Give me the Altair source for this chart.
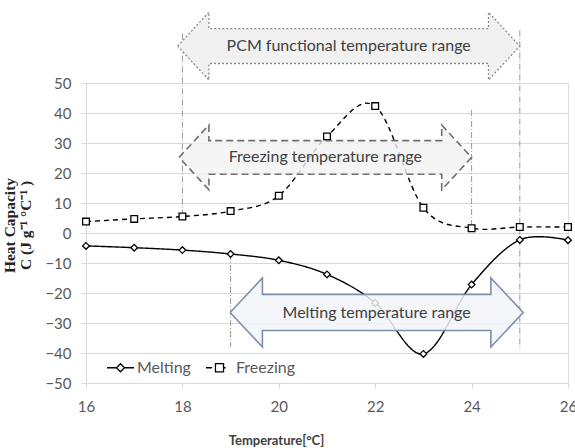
import altair as alt
import pandas as pd

# ---- data ----
temps = [16, 17, 18, 19, 20, 21, 22, 23, 24, 25, 26]
melting = [-4.3, -4.9, -5.7, -7.0, -9.1, -13.8, -23.3, -40.3, -17.2, -2.3, -2.4]
freezing = [3.8, 4.7, 5.5, 7.3, 12.4, 32.2, 42.3, 8.4, 1.6, 2.0, 2.0]
series_names = ["Melting", "Freezing"]

# annotation arrows (data units)
arrow_labels = ["PCM functional temperature range", "Freezing temperature range", "Melting temperature range"]
arrow_start = [17.9, 17.93, 18.99]
arrow_end = [25.0, 24.0, 25.07]
arrow_center = [62.3, 25.2, -26.5]
arrow_head_half = [11.3, 10.8, 11.5]
arrow_shaft_half = [5.8, 5.6, 6.0]
arrow_head_len = [0.65, 0.62, 0.67]

# vertical guide lines (data units)
guide_x = [18, 25, 24, 19]
guide_top = [66.5, 67.5, 41, -7]
guide_bottom = [6, -39, 2, -38]

x_ticks = [16, 18, 20, 22, 24, 26]
y_ticks = [-50, -40, -30, -20, -10, 0, 10, 20, 30, 40, 50]

# ---- tables ----
rows = []
for t, m, f in zip(temps, melting, freezing):
    rows.append({"T": t, "C": m, "series": "Melting"})
    rows.append({"T": t, "C": f, "series": "Freezing"})
df = pd.DataFrame(rows)

def arrow_poly(i):
    s, e, c = arrow_start[i], arrow_end[i], arrow_center[i]
    H, h, L = arrow_head_half[i], arrow_shaft_half[i], arrow_head_len[i]
    pts = [(s, c), (s + L, c + H), (s + L, c + h), (e - L, c + h), (e - L, c + H),
           (e, c), (e - L, c - H), (e - L, c - h), (s + L, c - h), (s + L, c - H), (s, c)]
    return pd.DataFrame({"T": [p[0] for p in pts], "C": [p[1] for p in pts], "o": list(range(len(pts)))})

guides = pd.DataFrame({"T": guide_x, "top": guide_top, "bottom": guide_bottom})
labels_df = pd.DataFrame({
    "T": [(a + b) / 2 for a, b in zip(arrow_start, arrow_end)],
    "C": arrow_center,
    "label": arrow_labels,
})

xscale = alt.Scale(domain=[16, 26], nice=False)
yscale = alt.Scale(domain=[-50, 50], nice=False)

xaxis = alt.Axis(values=x_ticks, grid=False, title="Temperature[°C]", titleX=190, titleY=57)
yaxis = alt.Axis(values=y_ticks, grid=True, title=["Heat Capacity", "C (J g⁻¹ °C⁻¹ )"],
                 titleX=-84, titleY=142)

X = alt.X("T:Q", scale=xscale, axis=xaxis)
Y = alt.Y("C:Q", scale=yscale, axis=yaxis)

guide_layer = alt.Chart(guides).mark_rule(color="#9a9a9a", strokeWidth=1, strokeDash=[6, 2, 1, 2]).encode(
    x=X,
    y=alt.Y("top:Q", scale=yscale, axis=yaxis),
    y2="bottom:Q",
)

base = alt.Chart(df)

lines = base.mark_line(interpolate="cardinal", color="black", strokeWidth=1.4).encode(
    x=X, y=Y,
    strokeDash=alt.StrokeDash("series:N", scale=alt.Scale(domain=series_names, range=[[1, 0], [5, 4]]), legend=None),
    detail="series:N",
)

points = base.mark_point(filled=True, fill="white", stroke="black", strokeWidth=1.3, size=45, opacity=1).encode(
    x=X, y=Y,
    shape=alt.Shape("series:N", scale=alt.Scale(domain=series_names, range=["diamond", "square"]), legend=None),
)

melt_sym = "M-1,0H-0.3M0.3,0H1M0,-0.3L0.3,0L0,0.3L-0.3,0Z"
frz_sym = "M-1,0H-0.55M-0.3,-0.3H0.3V0.3H-0.3ZM0.3,0H0.45"
legend_layer = base.mark_point(opacity=0).encode(
    x=X, y=Y,
    shape=alt.Shape("series:N", scale=alt.Scale(domain=series_names, range=[melt_sym, frz_sym]),
                    legend=alt.Legend(title=None, orient="none", legendX=20, legendY=270, direction="horizontal",
                                      symbolSize=729, symbolStrokeColor="black", symbolFillColor="white",
                                      symbolStrokeWidth=1.3, symbolOpacity=1, labelFont="Lato",
                                      labelFontSize=16, labelColor="#595959", labelOffset=2,
                                      columnPadding=12)),
)

arrow_styles = [
    dict(fill="#f0f0f0", stroke="#8c8c8c", strokeWidth=1.3, strokeDash=[2, 2], fillOpacity=0.95),
    dict(fill="#f3f3f3", stroke="#6f6f6f", strokeWidth=1.6, strokeDash=[7, 4], fillOpacity=0.8),
    dict(fill="#f2f5f9", stroke="#7d8fab", strokeWidth=1.6, fillOpacity=0.85),
]
arrows = []
for i, st in enumerate(arrow_styles):
    arrows.append(alt.Chart(arrow_poly(i)).mark_line(clip=False, **st).encode(
        x=X, y=Y, order="o:Q",
    ))

texts = alt.Chart(labels_df).mark_text(font="Lato", fontSize=16, color="#404040", clip=False).encode(
    x=X, y=Y, text="label:N",
)

chart = alt.layer(guide_layer, lines, points, legend_layer, *arrows, texts).resolve_scale(
    shape="independent"
).properties(
    width=482, height=300,
    autosize=alt.AutoSizeParams(type="none"),
    padding={"left": 86, "top": 83, "right": 7, "bottom": 65},
).configure_view(stroke=None).configure(background="white").configure_axis(
    labelFont="Lato", labelFontSize=15, labelColor="#595959", labelFlush=False, labelOverlap=False,
    tickColor="#d9d9d9", tickSize=5, domainColor="#d9d9d9", gridColor="#d9d9d9",
).configure_axisX(
    labelPadding=11, titleFont="Lato", titleFontSize=13, titleFontWeight="bold", titleColor="#404040",
    titleBaseline="middle", titleAnchor="start", titleAlign="center",
).configure_axisY(
    labelPadding=10, titleFont="Liberation Serif", titleFontSize=15.5, titleFontWeight="bold",
    titleColor="#222222", titleAngle=-90, titleBaseline="top", titleAlign="center", titleLineHeight=16,
)

chart.save("out.html", embed_options={"renderer": "svg", "actions": False})
